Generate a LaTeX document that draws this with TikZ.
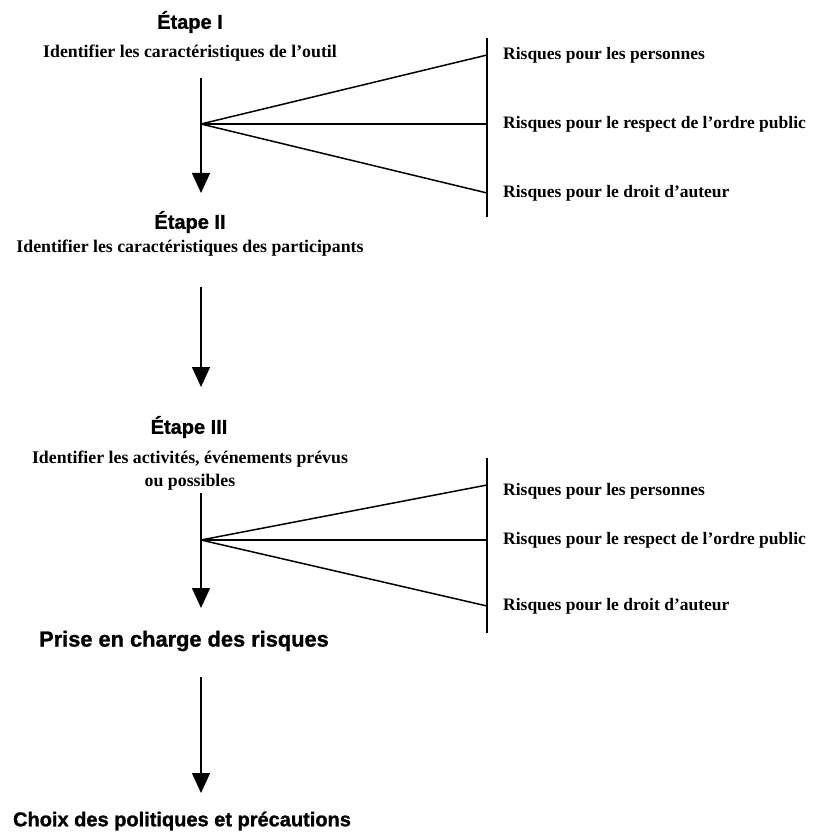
\documentclass[tikz,border=0pt]{standalone}
\usepackage{fontspec}
\setmainfont{Liberation Serif}
\newfontfamily\headfont[FakeBold=1.2]{Liberation Sans Bold}
\usetikzlibrary{arrows.meta}
\begin{document}
\begin{tikzpicture}[x=1pt,y=-1pt,
  head/.style={font=\headfont\fontsize{20}{22}\selectfont, inner sep=0pt},
  bighead/.style={font=\headfont\fontsize{21.8}{24}\selectfont, inner sep=0pt},
  body/.style={font=\bfseries\fontsize{17.8}{23}\selectfont, inner sep=0pt, align=center},
  risk/.style={font=\bfseries\fontsize{17.5}{21}\selectfont, inner sep=0pt, anchor=west},
  arr/.style={line width=1.5pt, -{Triangle[width=18pt,length=20pt]}},
  ln/.style={line width=1.5pt}]
\useasboundingbox (0,0) rectangle (817,837);
% Stage I
\node[head] (e1) at (190,22) {Étape I};
\node[body] (t1) at (190,53) {Identifier les caractéristiques de l’outil};
\coordinate (s1) at (201,78);
\coordinate (f1) at (201,124);
\coordinate (a1) at (201,193);
\draw[arr] (s1) -- (a1);
\coordinate (b1t) at (487,38);
\coordinate (b1b) at (487,217);
\draw[ln] (b1t) -- (b1b);
\coordinate (r1a) at (487,55);
\coordinate (r1b) at (487,124);
\coordinate (r1c) at (487,193);
\draw[ln] (f1) -- (r1a);
\draw[ln] (f1) -- (r1b);
\draw[ln] (f1) -- (r1c);
\node[risk] (l1a) at (503,55) {Risques pour les personnes};
\node[risk] (l1b) at (503,124) {Risques pour le respect de l’ordre public};
\node[risk] (l1c) at (503,193) {Risques pour le droit d’auteur};
% Stage II
\node[head] (e2) at (190,222) {Étape II};
\node[body] (t2) at (190,248) {Identifier les caractéristiques des participants};
\coordinate (s2) at (201,287);
\coordinate (a2) at (201,387);
\draw[arr] (s2) -- (a2);
% Stage III
\node[head] (e3) at (189,427) {Étape III};
\node[body] (t3) at (190,471) {Identifier les activités, événements prévus\\ou possibles};
\coordinate (s3) at (201,493);
\coordinate (f3) at (201,540);
\coordinate (a3) at (201,608);
\draw[arr] (s3) -- (a3);
\coordinate (b3t) at (487,458);
\coordinate (b3b) at (487,633);
\draw[ln] (b3t) -- (b3b);
\coordinate (r3a) at (487,485);
\coordinate (r3b) at (487,540);
\coordinate (r3c) at (487,606);
\draw[ln] (f3) -- (r3a);
\draw[ln] (f3) -- (r3b);
\draw[ln] (f3) -- (r3c);
\node[risk] (l3a) at (503,491) {Risques pour les personnes};
\node[risk] (l3b) at (503,540) {Risques pour le respect de l’ordre public};
\node[risk] (l3c) at (503,606) {Risques pour le droit d’auteur};
% Final
\node[bighead] (p) at (184,641) {Prise en charge des risques};
\coordinate (s4) at (201,677);
\coordinate (a4) at (201,793);
\draw[arr] (s4) -- (a4);
\node[head] (c) at (182,821) {Choix des politiques et précautions};
\end{tikzpicture}
\end{document}
